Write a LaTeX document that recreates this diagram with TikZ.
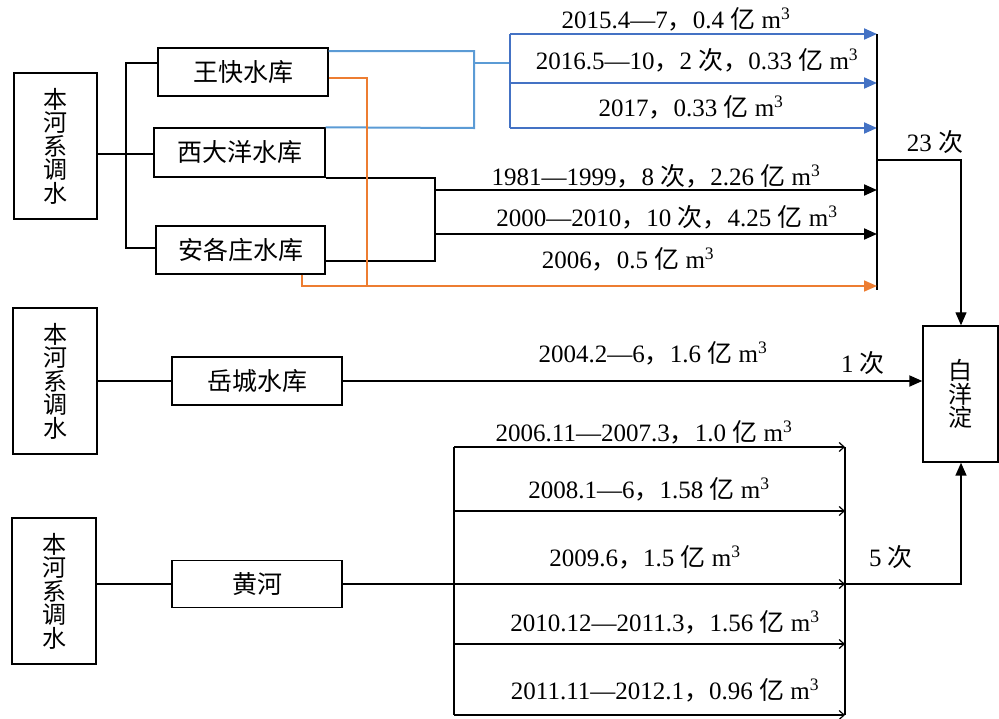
\documentclass[tikz,border=0pt]{standalone}
\usepackage{fontspec}
\setmainfont{Liberation Serif}
\newfontfamily\cjk{Noto Sans CJK SC}
\usetikzlibrary{arrows.meta}
\definecolor{lblue}{HTML}{5B9BD5}
\definecolor{dblue}{HTML}{4472C4}
\definecolor{orng}{HTML}{ED7D31}
\newcommand{\zyi}{{\cjk 亿}}
\newcommand{\zci}{{\cjk 次}}
\newcommand{\zcm}{{\cjk ，}}
\newcommand{\mcu}{m\textsuperscript{3}}
\begin{document}
\begin{tikzpicture}[x=1pt,y=-1pt,
  box/.style={draw,line width=1.4pt,inner sep=0pt,font=\cjk\fontsize{25}{25}\selectfont},
  vbox/.style={box,align=center,font=\cjk\fontsize{24}{23.5}\selectfont},
  lab/.style={inner sep=0pt,font=\fontsize{25}{25}\selectfont},
  conn/.style={line width=2pt},
  thinl/.style={line width=1.2pt},
  lb/.style={draw=lblue,line width=2pt},
  db/.style={draw=dblue,line width=2pt},
  orl/.style={draw=orng,line width=1.6pt},
  tri/.style={-{Triangle[length=13pt,width=11pt]}},
  barb/.style={-{Straight Barb[length=5pt,width=9pt]}}]
\useasboundingbox (0,0) rectangle (999,718);
% boxes
\node[vbox,minimum width=83pt,minimum height=146pt] (s1) at (55.5,146) {本\\河\\系\\调\\水};
\node[box,minimum width=170pt,minimum height=48pt] (wk) at (243,72) {王快水库};
\node[box,minimum width=171pt,minimum height=49pt] (xdy) at (239.5,152.5) {西大洋水库};
\node[box,minimum width=169pt,minimum height=48pt] (agz) at (240.5,250) {安各庄水库};
\node[vbox,minimum width=84pt,minimum height=146pt] (s2) at (55,381) {本\\河\\系\\调\\水};
\node[box,minimum width=170pt,minimum height=48pt] (yc) at (257,381) {岳城水库};
\node[vbox,minimum width=75pt,minimum height=136pt] (byd) at (960.5,394) {白\\洋\\淀};
\node[vbox,minimum width=84pt,minimum height=146pt] (s3) at (54,591) {本\\河\\系\\调\\水};
\node[box,minimum width=170pt,minimum height=47pt] (hh) at (257,584) {黄河};
% coordinates
\coordinate (bt) at (126,63);
\coordinate (bm) at (126,154);
\coordinate (bb) at (126,248);
\coordinate (q1) at (474,51);
\coordinate (q2) at (474,128);
\coordinate (q3) at (474,63);
\coordinate (bvt) at (510,34);
\coordinate (bvm) at (510,63);
\coordinate (bv2) at (510,83);
\coordinate (bvb) at (510,128);
\coordinate (ct) at (877,34);
\coordinate (cb) at (877,290);
\coordinate (cm) at (877,160);
\coordinate (cr) at (961,160);
\coordinate (k1) at (435,178);
\coordinate (k2) at (435,261);
\coordinate (k3) at (435,190);
\coordinate (k4) at (435,234);
\coordinate (o1) at (367,78);
\coordinate (o2) at (367,286);
\coordinate (o3) at (302,286);
\coordinate (yt) at (454,447);
\coordinate (y2) at (454,511);
\coordinate (y0) at (454,584);
\coordinate (y4) at (454,644);
\coordinate (yb) at (454,715);
\coordinate (ye) at (845,584);
\coordinate (yr) at (961,584);
% section 1
\draw[conn] (s1.east|-bm) -- (xdy.west|-bm);
\draw[conn] (wk.west|-bt) -- (bt) -- (bb) -- (agz.west|-bb);
\draw[lb] (wk.east|-q1) -- (q1) -- (q2) -- (xdy.north east);
\draw[lb,line width=1.2pt] (q3) -- (bvm);
\draw[db] (bvt) -- (bvb);
\draw[db,-{Triangle[length=13pt,width=11pt,fill=dblue]}] (bvt) -- (bvt-|ct);
\draw[db,-{Triangle[length=13pt,width=11pt,fill=dblue]}] (bv2) -- (bv2-|ct);
\draw[db,-{Triangle[length=13pt,width=11pt,fill=dblue]}] (bvb) -- (bvb-|ct);
\draw[conn,line width=2.4pt] (ct) -- (cb);
\draw[thinl,tri] (cm) -- (cr) -- (byd.north-|cr);
\draw[conn] (k1-|xdy.east) -- (k1) -- (k2) -- (k2-|agz.east);
\draw[conn,tri] (k3) -- (k3-|ct);
\draw[conn,tri] (k4) -- (k4-|ct);
\draw[orl] (o1-|wk.east) -- (o1) -- (o2);
\draw[orl,-{Triangle[length=13pt,width=11pt,fill=orng]}] (agz.south-|o3) -- (o3) -- (o3-|ct);
% section 2
\draw[conn] (s2.east) -- (yc.west);
\draw[conn,tri] (yc.east) -- (yc.east-|byd.west);
% section 3
\draw[conn] (s3.east|-hh.west) -- (hh.west);
\draw[conn] (hh.east) -- (y0);
\draw[conn,line width=2.4pt] (yt) -- (yb);
\draw[thinl,barb] (yt) -- (yt-|ye);
\draw[thinl,barb] (y2) -- (y2-|ye);
\draw[thinl,barb] (y0) -- (ye);
\draw[thinl,barb] (y4) -- (y4-|ye);
\draw[thinl,barb] (yb) -- (yb-|ye);
\draw[thinl] (ye|-yt) -- (ye|-yb);
\draw[conn,line width=1.6pt,tri] (ye) -- (yr) -- (byd.south-|yr);
% labels
\node[lab] (l1) at (676,19) {2015.4—7\zcm 0.4 \zyi\ \mcu};
\node[lab] (l2) at (697,60) {2016.5—10\zcm 2 \zci\zcm 0.33 \zyi\ \mcu};
\node[lab] (l3) at (691,107) {2017\zcm 0.33 \zyi\ \mcu};
\node[lab] (l23) at (935,142) {23 \zci};
\node[lab] (l4) at (656,176) {1981—1999\zcm 8 \zci\zcm 2.26 \zyi\ \mcu};
\node[lab] (l5) at (667,217) {2000—2010\zcm 10 \zci\zcm 4.25 \zyi\ \mcu};
\node[lab] (l6) at (628,259) {2006\zcm 0.5 \zyi\ \mcu};
\node[lab] (l7) at (653,353) {2004.2—6\zcm 1.6 \zyi\ \mcu};
\node[lab] (l1c) at (863,363) {1 \zci};
\node[lab] (m1) at (644,432) {2006.11—2007.3\zcm 1.0 \zyi\ \mcu};
\node[lab] (m2) at (649,489) {2008.1—6\zcm 1.58 \zyi\ \mcu};
\node[lab] (m3) at (645,557) {2009.6\zcm 1.5 \zyi\ \mcu};
\node[lab] (m4) at (665,622) {2010.12—2011.3\zcm 1.56 \zyi\ \mcu};
\node[lab] (m5) at (665,690) {2011.11—2012.1\zcm 0.96 \zyi\ \mcu};
\node[lab] (l5c) at (891,557) {5 \zci};
\end{tikzpicture}
\end{document}
